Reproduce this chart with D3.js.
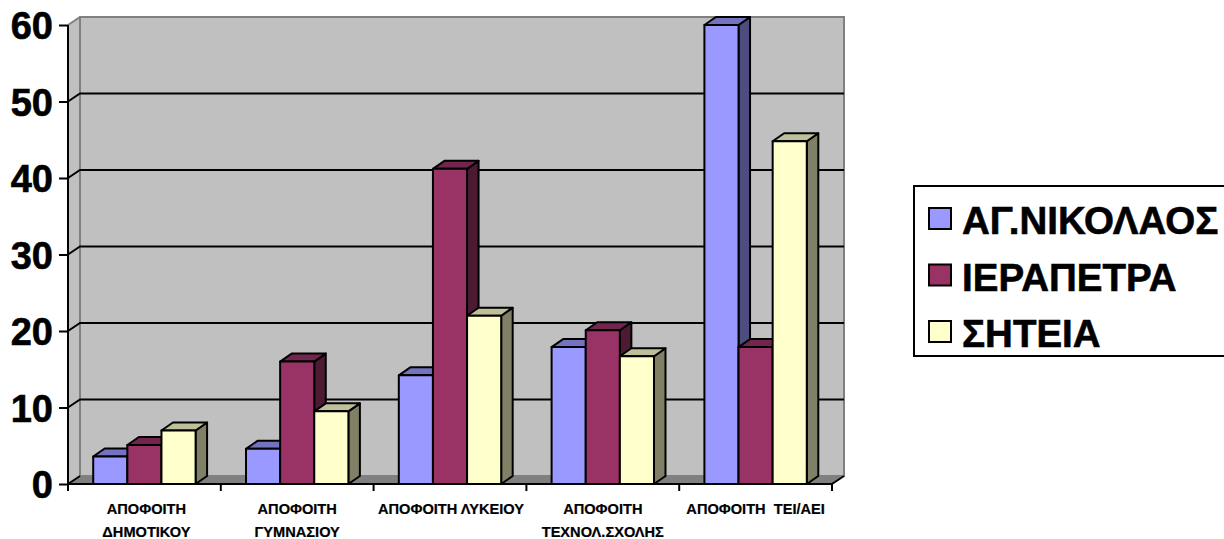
<!DOCTYPE html>
<html>
<head>
<meta charset="utf-8">
<script src="https://cdn.jsdelivr.net/npm/d3@7/dist/d3.min.js"></script>
<style>
  html, body { margin: 0; padding: 0; background: #fff; overflow: hidden; }
  svg { display: block; font-family: "Liberation Sans", Arial, sans-serif; font-weight: bold; }
</style>
</head>
<body>
<svg id="chart" width="1224" height="539"></svg>
<script>
// Education level by town: clustered 3D-style columns
const categories = [
  ["ΑΠΟΦΟΙΤΗ", "ΔΗΜΟΤΙΚΟΥ"],
  ["ΑΠΟΦΟΙΤΗ", "ΓΥΜΝΑΣΙΟΥ"],
  ["ΑΠΟΦΟΙΤΗ ΛΥΚΕΙΟΥ"],
  ["ΑΠΟΦΟΙΤΗ", "ΤΕΧΝΟΛ.ΣΧΟΛΗΣ"],
  ["ΑΠΟΦΟΙΤΗ  ΤΕΙ/ΑΕΙ"]
];
const seriesNames = ["ΑΓ.ΝΙΚΟΛΑΟΣ", "ΙΕΡΑΠΕΤΡΑ", "ΣΗΤΕΙΑ"];
const nikolaos = [3.6, 4.6, 14.2, 17.9, 60];
const ierapetra = [5.1, 16, 41.2, 20.1, 17.9];
const siteia = [7, 9.5, 22, 16.7, 44.8];
const yTicks = [0, 10, 20, 30, 40, 50, 60];

const seriesValues = [nikolaos, ierapetra, siteia];
const palette = [
  { front: "#9999FF", top: "#7373BF", side: "#4D4D80" },
  { front: "#993366", top: "#73264D", side: "#4D1A33" },
  { front: "#FFFFCC", top: "#BFBF99", side: "#808066" }
];

const plot = { left: 68, right: 832, top: 25, bottom: 484 };
const depth = { dx: 12, dy: -8 };
const barDepth = { dx: 11.5, dy: -8 };

const svg = d3.select("#chart");
const y = d3.scaleLinear().domain([0, 60]).range([plot.bottom, plot.top]);
const x0 = d3.scaleBand().domain(d3.range(categories.length))
  .range([plot.left, plot.right]).paddingInner(0.33).paddingOuter(0.165);
const x1 = d3.scaleBand().domain(d3.range(seriesNames.length)).range([0, x0.bandwidth()]);
const poly = pts => pts.map(p => p.join(",")).join(" ");

// Chart walls and floor
svg.append("polygon").attr("fill", "#C0C0C0").attr("points", poly([
  [plot.left, plot.top], [plot.left + depth.dx, plot.top + depth.dy],
  [plot.left + depth.dx, plot.bottom + depth.dy], [plot.left, plot.bottom]
]));
svg.append("rect")
  .attr("x", plot.left + depth.dx).attr("y", plot.top + depth.dy)
  .attr("width", plot.right - plot.left).attr("height", plot.bottom - plot.top)
  .attr("fill", "#C0C0C0").attr("stroke", "#808080").attr("stroke-width", 2);
svg.append("polygon").attr("fill", "#808080").attr("points", poly([
  [plot.left, plot.bottom], [plot.left + depth.dx, plot.bottom + depth.dy],
  [plot.right + depth.dx, plot.bottom + depth.dy], [plot.right, plot.bottom]
]));
svg.append("line").attr("stroke", "#808080").attr("stroke-width", 2)
  .attr("x1", plot.left).attr("y1", plot.top)
  .attr("x2", plot.left + depth.dx).attr("y2", plot.top + depth.dy);

// Gridlines on the back wall, folded along the side wall
const grid = svg.append("g").attr("stroke", "#000").attr("stroke-width", 2).attr("fill", "none");
yTicks.filter(t => t > 0 && t < 60).forEach(t => {
  grid.append("polyline").attr("points", poly([
    [plot.left, y(t)], [plot.left + depth.dx, y(t) + depth.dy], [plot.right + depth.dx, y(t) + depth.dy]
  ]));
});

// Columns, drawn series by series so that later ones overlap earlier side faces
categories.forEach((_, c) => {
  seriesValues.forEach((values, s) => {
    const left = x0(c) + x1(s), right = left + x1.bandwidth();
    const yt = y(values[c]), yb = y(0), col = palette[s];
    const g = svg.append("g").attr("stroke", "#000").attr("stroke-width", 2).attr("stroke-linejoin", "round");
    g.append("polygon").attr("fill", col.side).attr("points", poly([
      [right, yt], [right + barDepth.dx, yt + barDepth.dy],
      [right + barDepth.dx, yb + barDepth.dy], [right, yb]
    ]));
    g.append("polygon").attr("fill", col.top).attr("points", poly([
      [left, yt], [left + barDepth.dx, yt + barDepth.dy],
      [right + barDepth.dx, yt + barDepth.dy], [right, yt]
    ]));
    g.append("rect").attr("x", left).attr("y", yt)
      .attr("width", right - left).attr("height", yb - yt).attr("fill", col.front);
  });
});

// Value axis
const yAxis = svg.append("g").attr("transform", `translate(${plot.left},0)`)
  .call(d3.axisLeft(y).tickValues(yTicks).tickSize(9).tickPadding(6).tickFormat(d3.format("d")));
yAxis.selectAll("path, line").attr("stroke", "#000").attr("stroke-width", 2);
yAxis.select(".domain").attr("d", `M0,${plot.top}V${plot.bottom}`);
yAxis.selectAll("text").attr("font-size", 38).attr("font-family", "Liberation Sans")
  .attr("font-weight", "bold").attr("fill", "#000").attr("dy", "0.36em")
  .attr("stroke", "#000").attr("stroke-width", 0.6);

// Category axis
const cats = svg.append("g");
const boundaries = d3.range(categories.length + 1)
  .map(i => plot.left + i * (plot.right - plot.left) / categories.length);
cats.append("line").attr("x1", plot.left).attr("x2", plot.right)
  .attr("y1", plot.bottom).attr("y2", plot.bottom).attr("stroke", "#000").attr("stroke-width", 2);
cats.selectAll(".tick").data(boundaries).join("line").attr("class", "tick")
  .attr("x1", d => d).attr("x2", d => d).attr("y1", plot.bottom).attr("y2", plot.bottom + 7)
  .attr("stroke", "#000").attr("stroke-width", 2);
[plot.left, plot.right].forEach(px => {
  cats.append("line").attr("stroke", "#000").attr("stroke-width", 2)
    .attr("x1", px).attr("y1", plot.bottom)
    .attr("x2", px + depth.dx).attr("y2", plot.bottom + depth.dy);
});
categories.forEach((lines, c) => {
  lines.forEach((line, i) => {
    cats.append("text").text(line).attr("xml:space", "preserve")
      .style("white-space", "pre")
      .attr("x", boundaries[c] + (boundaries[c + 1] - boundaries[c]) / 2 + (c === 0 ? 2 : c === 2 ? 1 : 0))
      .attr("y", 514 + i * 23).attr("text-anchor", "middle")
      .attr("font-size", 14.6).attr("fill", "#000")
      .attr("stroke", "#000").attr("stroke-width", 0.2);
  });
});

// Legend, running past the right edge of the page
const legend = svg.append("g");
legend.append("rect").attr("x", 914).attr("y", 186).attr("width", 330).attr("height", 170)
  .attr("fill", "#fff").attr("stroke", "#000").attr("stroke-width", 2);
seriesNames.forEach((name, i) => {
  legend.append("rect").attr("x", 929).attr("y", 208 + i * 56.5).attr("width", 22).attr("height", 21)
    .attr("fill", palette[i].front).attr("stroke", "#000").attr("stroke-width", 2);
  legend.append("text").text(name).attr("x", 962).attr("y", 234 + i * 56.5)
    .attr("font-size", 38.5).attr("fill", "#000").attr("stroke", "#000").attr("stroke-width", 0.6);
});
</script>
</body>
</html>
